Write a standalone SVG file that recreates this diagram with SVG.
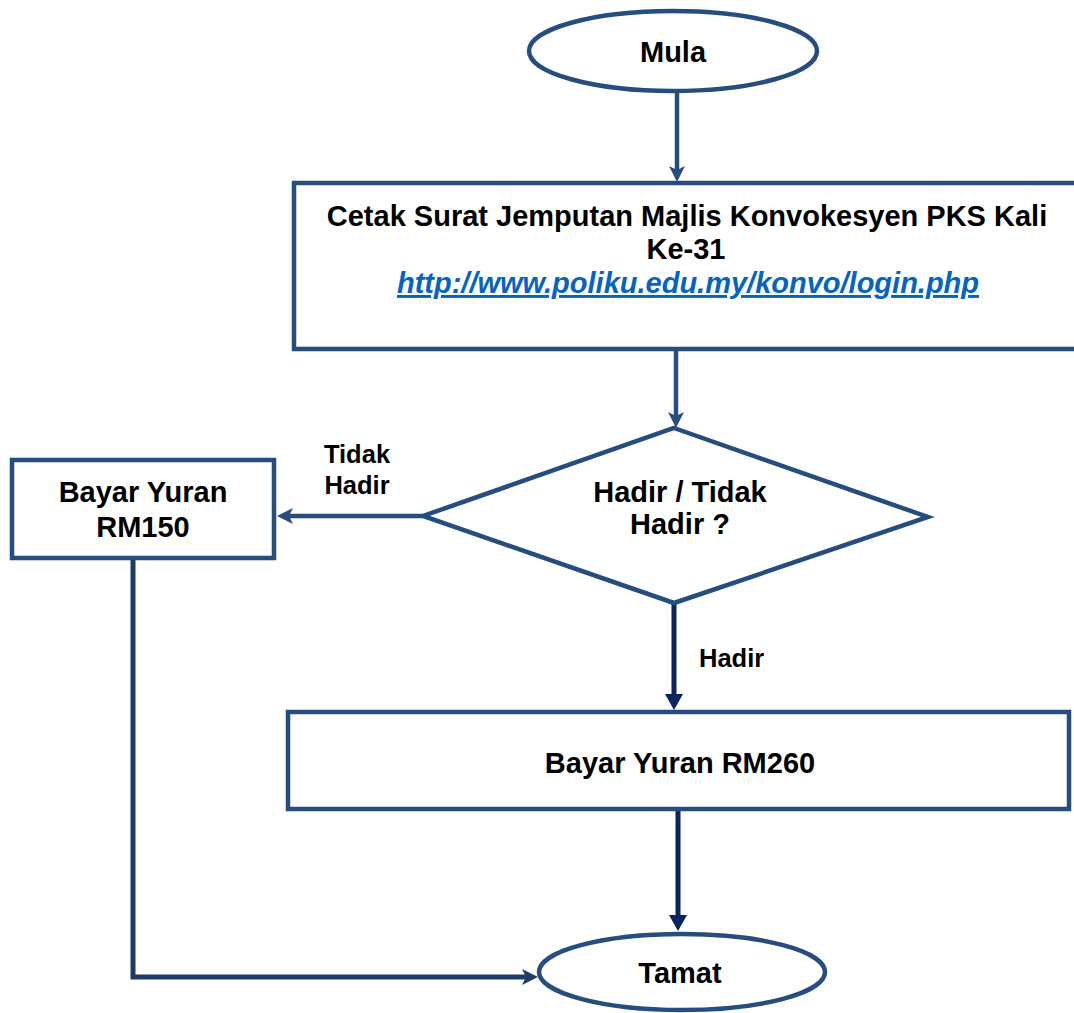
<svg xmlns="http://www.w3.org/2000/svg" width="1074" height="1013" viewBox="0 0 1074 1013">
  <style>
    .shape { fill: #ffffff; stroke: #254D7E; stroke-width: 4.5; }
    .t { font-family: "Liberation Sans", Arial, sans-serif; font-weight: bold; font-size: 29px; fill: #000000; text-anchor: middle; }
    .lbl { font-family: "Liberation Sans", Arial, sans-serif; font-weight: bold; font-size: 25.5px; fill: #000000; }
    .link { fill: #0563C1; font-style: italic; text-decoration: underline; }
    .c-blue { fill: none; stroke: #254D7E; stroke-width: 4.5; }
    .c-navy { fill: none; stroke: #0B2362; stroke-width: 5; }
    .c-dark { fill: none; stroke: #1F3C66; stroke-width: 5; }
  </style>
  <defs>
    <marker id="stealth" markerUnits="userSpaceOnUse" viewBox="0 0 16 16" refX="6" refY="8" markerWidth="16" markerHeight="16" orient="auto">
      <path d="M0,0 L16,8 L0,16 L4,8 Z" fill="#254D7E"/>
    </marker>
    <marker id="stealthDark" markerUnits="userSpaceOnUse" viewBox="0 0 16 16" refX="6" refY="8" markerWidth="16" markerHeight="16" orient="auto">
      <path d="M0,0 L16,8 L0,16 L4,8 Z" fill="#1F3C66"/>
    </marker>
    <marker id="tri" markerUnits="userSpaceOnUse" viewBox="0 0 16 18" refX="6" refY="9" markerWidth="16" markerHeight="18" orient="auto">
      <path d="M0,0 L16,9 L0,18 Z" fill="#0B2362"/>
    </marker>
  </defs>

  <g id="connectors">
    <line class="c-blue" x1="677" y1="92" x2="677" y2="172" marker-end="url(#stealth)"/>
    <line class="c-blue" x1="676" y1="350" x2="676" y2="418" marker-end="url(#stealth)"/>
    <line class="c-blue" x1="423" y1="516" x2="287" y2="516" marker-end="url(#stealth)"/>
    <line class="c-navy" x1="674" y1="603" x2="674" y2="700" marker-end="url(#tri)"/>
    <line class="c-navy" x1="678" y1="810" x2="678" y2="921" marker-end="url(#tri)"/>
    <polyline class="c-dark" points="133,559 133,977 528,977" marker-end="url(#stealthDark)"/>
    <text class="lbl" x="357" y="463" text-anchor="middle">Tidak</text>
    <text class="lbl" x="357" y="494" text-anchor="middle">Hadir</text>
    <text class="lbl" x="699" y="667">Hadir</text>
  </g>

  <g id="node-mula">
    <ellipse class="shape" cx="673" cy="51" rx="144" ry="40"/>
    <text class="t" x="673" y="62">Mula</text>
  </g>

  <g id="node-cetak">
    <rect class="shape" x="294" y="183" width="792" height="166"/>
    <text class="t" x="687" y="226">Cetak Surat Jemputan Majlis Konvokesyen PKS Kali</text>
    <text class="t" x="686" y="259">Ke-31</text>
    <text class="t link" x="688" y="293">http://www.poliku.edu.my/konvo/login.php</text>
  </g>

  <g id="node-decision">
    <polygon class="shape" points="674,428 928,517 674,603 423,516"/>
    <text class="t" x="680" y="502">Hadir / Tidak</text>
    <text class="t" x="680" y="534">Hadir ?</text>
  </g>

  <g id="node-rm150">
    <rect class="shape" x="12" y="460" width="262" height="98"/>
    <text class="t" x="143" y="502">Bayar Yuran</text>
    <text class="t" x="143" y="537">RM150</text>
  </g>

  <g id="node-rm260">
    <rect class="shape" x="288" y="712" width="781" height="97"/>
    <text class="t" x="680" y="773">Bayar Yuran RM260</text>
  </g>

  <g id="node-tamat">
    <ellipse class="shape" cx="682" cy="972" rx="143" ry="38"/>
    <text class="t" x="680" y="983">Tamat</text>
  </g>
</svg>
